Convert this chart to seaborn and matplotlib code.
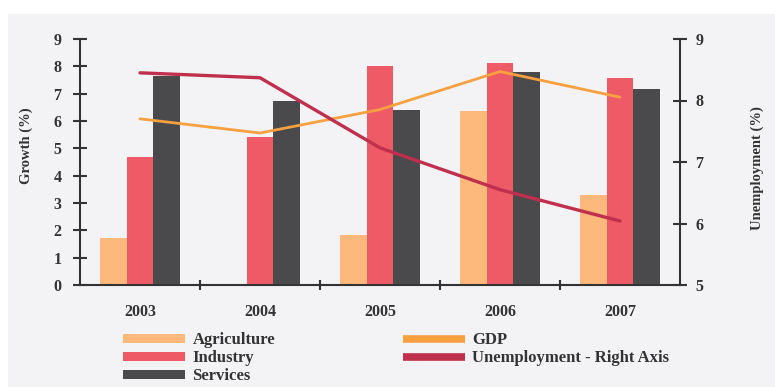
import numpy as np
import pandas as pd
import seaborn as sns
import matplotlib
matplotlib.use("Agg")
import matplotlib.pyplot as plt
from matplotlib.patches import Patch, Rectangle
from matplotlib.lines import Line2D

# Sector growth (%), GDP growth (%) and unemployment rate (%)
years = ["2003", "2004", "2005", "2006", "2007"]
agriculture = [1.71, 0.0, 1.83, 6.35, 3.30]
industry = [4.70, 5.43, 8.00, 8.14, 7.56]
services = [7.63, 6.74, 6.41, 7.78, 7.17]
gdp = [6.08, 5.56, 6.42, 7.81, 6.87]
unemployment = [8.45, 8.37, 7.23, 6.55, 6.04]

sectors = ["Agriculture", "Industry", "Services"]
sector_colors = ["#FDB87C", "#EE5B66", "#4A4A4C"]
gdp_color = "#F7A040"
unemp_color = "#C02F4D"
ink = "#333333"

sns.set_theme(style="white")
plt.rcParams["font.family"] = ["Liberation Serif", "DejaVu Serif"]
plt.rcParams["font.weight"] = "bold"

bars = pd.DataFrame({
    "Year": years * 3,
    "Sector": np.repeat(sectors, len(years)),
    "Growth": agriculture + industry + services,
})
lines = pd.DataFrame({"pos": np.arange(len(years)), "GDP": gdp,
                      "Unemployment": unemployment})

fig = plt.figure(figsize=(7.75, 3.87), dpi=100, facecolor="white")
fig.patches.append(Rectangle((8 / 775, 0), 1, 1 - 14 / 387,
                             transform=fig.transFigure, facecolor="#F3F3F5",
                             edgecolor="none", zorder=-10))
ax = fig.add_axes([80 / 775, 1 - 285 / 387, 600 / 775, 246 / 387])
ax.set_facecolor("none")

sns.barplot(data=bars, x="Year", y="Growth", hue="Sector", order=years,
            hue_order=sectors, palette=sector_colors, width=2 / 3, gap=0,
            saturation=1, ax=ax, legend=False, linewidth=0)
sns.lineplot(data=lines, x="pos", y="GDP", color=gdp_color, lw=2.0, ax=ax,
             legend=False)

ax.set_xlim(-0.5, 4.5)
ax.set_ylim(0, 9)
ax.set_yticks(range(0, 10))
ax.set_xticks(range(len(years)))
ax.set_xticklabels(years)
ax.set_xticks([0.5, 1.5, 2.5, 3.5], minor=True)
ax.set_xlabel("")
ax.set_ylabel("Growth (%)", fontsize=10.5, fontweight="bold", color=ink)
ax.yaxis.set_label_coords(-0.078, 0.565)

ax2 = ax.twinx()
sns.lineplot(data=lines, x="pos", y="Unemployment", color=unemp_color,
             lw=2.4, ax=ax2, legend=False)
ax2.set_ylim(5, 9)
ax2.set_yticks(range(5, 10))
ax2.set_ylabel("Unemployment (%)", fontsize=10.5, fontweight="bold", color=ink,
               rotation=90)
ax2.yaxis.set_label_coords(1.117, 0.476)
ax2.set_xlim(-0.5, 4.5)

for a in (ax, ax2):
    a.spines["top"].set_visible(False)
    for side in ("left", "right", "bottom"):
        a.spines[side].set_color(ink)
        a.spines[side].set_linewidth(1.5)
ax.spines["right"].set_visible(False)
ax2.spines["left"].set_visible(False)
ax2.spines["bottom"].set_visible(False)

ax.tick_params(axis="y", direction="inout", length=10.5, width=1.5,
               color=ink, labelsize=11.5, labelcolor=ink, pad=8, left=True)
ax.tick_params(axis="x", which="major", length=0, labelsize=11.5,
               labelcolor=ink, pad=14)
ax.tick_params(axis="x", which="minor", direction="inout", length=7,
               width=1.5, color=ink, bottom=True)
ax2.tick_params(axis="y", direction="inout", length=10.5, width=1.5,
                color=ink, labelsize=11.5, labelcolor=ink, pad=6, right=True)
for t in ax.get_xticklabels() + ax.get_yticklabels() + ax2.get_yticklabels():
    t.set_fontweight("bold")

leg_kw = dict(frameon=False, handlelength=3.7, handleheight=0.5,
              labelspacing=0.12, handletextpad=0.45, borderpad=0,
              labelcolor=ink, prop={"weight": "bold", "size": 12})
h1 = [Patch(facecolor=c, edgecolor="none") for c in sector_colors]
fig.legend(h1, sectors, loc="upper left",
           bbox_to_anchor=(115 / 775, 1 - 324 / 387), **leg_kw)
h2 = [Line2D([], [], color=gdp_color, lw=5.5, solid_capstyle="butt"),
      Line2D([], [], color=unemp_color, lw=5.5, solid_capstyle="butt")]
fig.legend(h2, ["GDP", "Unemployment - Right Axis"], loc="upper left",
           bbox_to_anchor=(395 / 775, 1 - 324 / 387), **leg_kw)

fig.savefig("out.png", dpi=100, facecolor="white")
